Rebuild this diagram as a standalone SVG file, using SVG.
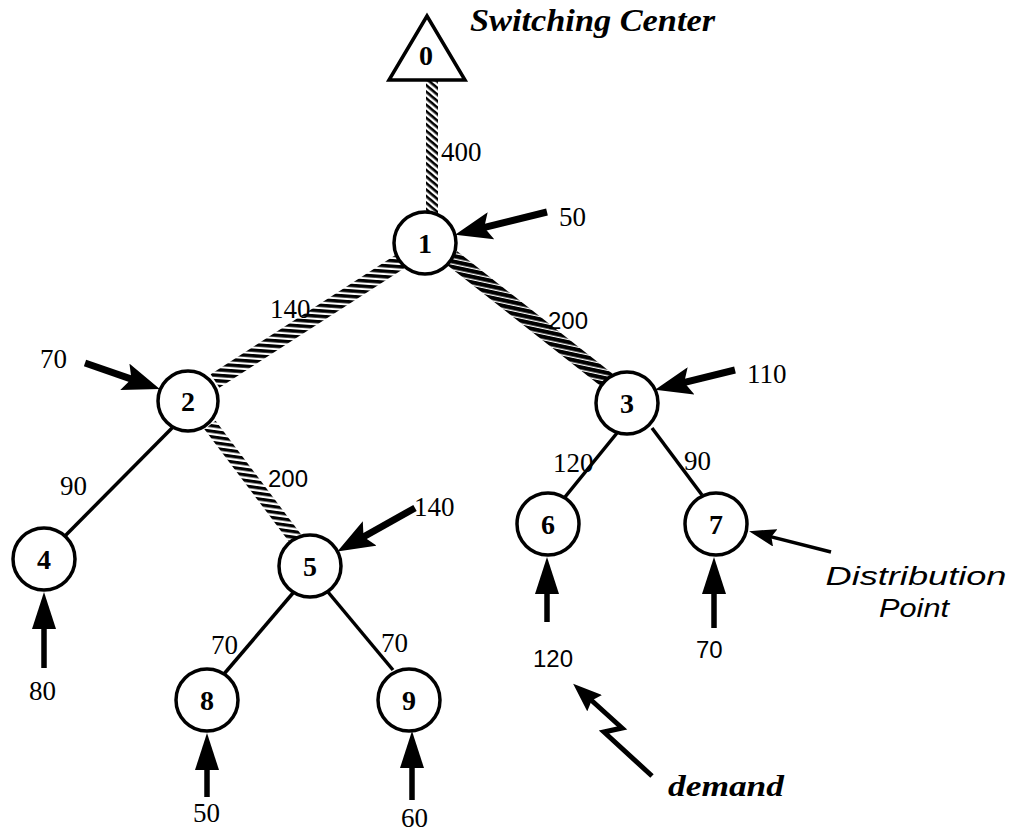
<svg xmlns="http://www.w3.org/2000/svg" width="1019" height="836" viewBox="0 0 1019 836">
<style>
.node{fill:#fff;stroke:#000;stroke-width:3.5}
.nl{font-family:"Liberation Serif",serif;font-weight:bold;font-size:28px;text-anchor:middle;fill:#000}
.num{font-family:"Liberation Serif",serif;font-size:27px;fill:#000}
.sn{font-family:"Liberation Sans",sans-serif;font-size:24px;fill:#000}
.edge{stroke:#000;stroke-width:3.5;fill:none}
.fat{stroke:#000;stroke-width:7;fill:none;marker-end:url(#fathead)}
.vert{stroke:#000;stroke-width:5.5;fill:none;marker-end:url(#verthead)}
.bi{font-family:"Liberation Serif",serif;font-weight:bold;font-style:italic;fill:#000}
</style>
<defs>
<pattern id="hV" width="5" height="5" patternUnits="userSpaceOnUse" patternTransform="rotate(40)"><rect width="5" height="2.6" fill="#000"/></pattern>
<pattern id="h12" width="5.5" height="5.5" patternUnits="userSpaceOnUse" patternTransform="rotate(4)"><rect width="5.5" height="3.4" fill="#000"/></pattern>
<pattern id="h13" width="5.5" height="5.5" patternUnits="userSpaceOnUse" patternTransform="rotate(12)"><rect width="5.5" height="4.2" fill="#000"/></pattern>
<pattern id="h25" width="5.5" height="5.5" patternUnits="userSpaceOnUse" patternTransform="rotate(8)"><rect width="5.5" height="3.2" fill="#000"/></pattern>
<marker id="fathead" markerWidth="38" markerHeight="28" refX="17" refY="14" orient="auto" markerUnits="userSpaceOnUse"><path d="M0,0 L37,14 L0,28 L7,14 z" fill="#000"/></marker>
<marker id="verthead" markerWidth="38" markerHeight="24" refX="18" refY="12" orient="auto" markerUnits="userSpaceOnUse"><path d="M0,0 L37,12 L0,24 z" fill="#000"/></marker>
<marker id="thinhead" markerWidth="28" markerHeight="18" refX="12" refY="9" orient="auto" markerUnits="userSpaceOnUse"><path d="M0,0 L27,9 L0,18 L4,9 z" fill="#000"/></marker>
<marker id="bolthead" markerWidth="30" markerHeight="22" refX="13" refY="11" orient="auto" markerUnits="userSpaceOnUse"><path d="M0,0 L29,11 L0,22 L4,11 z" fill="#000"/></marker>
</defs>
<rect width="1019" height="836" fill="#fff"/>

<g id="connectors">
  <line x1="432" y1="80" x2="432" y2="214" stroke="url(#hV)" stroke-width="12"/>
  <line x1="404" y1="259" x2="215" y2="381" stroke="url(#h12)" stroke-width="16"/>
  <line x1="452" y1="258" x2="608" y2="381" stroke="url(#h13)" stroke-width="17"/>
  <line x1="210" y1="425" x2="298" y2="542" stroke="url(#h25)" stroke-width="14"/>
  <line class="edge" x1="175" y1="425" x2="64" y2="537"/>
  <line class="edge" x1="617" y1="433" x2="565" y2="497"/>
  <line class="edge" x1="652" y1="428" x2="702" y2="495"/>
  <line class="edge" x1="293" y1="593" x2="224" y2="674"/>
  <line class="edge" x1="328" y1="592" x2="393" y2="670"/>
  <line class="fat" x1="547" y1="212" x2="474.5" y2="229.9"/>
  <line class="fat" x1="85" y1="363" x2="140.9" y2="382.4"/>
  <line class="fat" x1="735" y1="370" x2="674.5" y2="384.9"/>
  <line class="fat" x1="415" y1="508" x2="354.8" y2="541.7"/>
  <line class="vert" x1="44" y1="668" x2="44" y2="611"/>
  <line class="vert" x1="547" y1="622" x2="547" y2="576"/>
  <line class="vert" x1="714" y1="628" x2="714" y2="576"/>
  <line class="vert" x1="207" y1="797" x2="207" y2="752"/>
  <line class="vert" x1="412" y1="800" x2="412" y2="750"/>
  <line x1="831" y1="552" x2="763.6" y2="534.9" stroke="#000" stroke-width="3.5" marker-end="url(#thinhead)"/>
  <path d="M652,776 L604,732 L622,728 L585,694.5" stroke="#000" stroke-width="5" fill="none" stroke-linejoin="miter" marker-end="url(#bolthead)"/>
</g>

<g id="node0">
  <polygon points="427,16 389,80 465,80" fill="#fff" stroke="#000" stroke-width="3.5" stroke-linejoin="miter"/>
  <text class="nl" x="426" y="65">0</text>
</g>
<g id="node1"><circle class="node" cx="425" cy="243" r="31"/><text class="nl" x="425" y="253">1</text></g>
<g id="node2"><circle class="node" cx="188" cy="401" r="30"/><text class="nl" x="188" y="411">2</text></g>
<g id="node3"><circle class="node" cx="627" cy="403" r="31"/><text class="nl" x="627" y="413">3</text></g>
<g id="node4"><circle class="node" cx="44" cy="559" r="31"/><text class="nl" x="44" y="569">4</text></g>
<g id="node5"><circle class="node" cx="310" cy="566" r="31"/><text class="nl" x="310" y="576">5</text></g>
<g id="node6"><circle class="node" cx="548" cy="524" r="31"/><text class="nl" x="548" y="534">6</text></g>
<g id="node7"><circle class="node" cx="716" cy="524" r="31"/><text class="nl" x="716" y="534">7</text></g>
<g id="node8"><circle class="node" cx="207" cy="700" r="31"/><text class="nl" x="207" y="710">8</text></g>
<g id="node9"><circle class="node" cx="409" cy="700" r="31"/><text class="nl" x="409" y="710">9</text></g>

<g id="labels">
  <text class="bi" x="470" y="31" font-size="32" textLength="245" lengthAdjust="spacingAndGlyphs">Switching Center</text>
  <text class="bi" x="668" y="796" font-size="30" textLength="116" lengthAdjust="spacingAndGlyphs">demand</text>
  <text x="916" y="585" font-family="'Liberation Sans',sans-serif" font-style="italic" font-size="25" text-anchor="middle" textLength="181" lengthAdjust="spacingAndGlyphs">Distribution</text>
  <text x="914" y="617" font-family="'Liberation Sans',sans-serif" font-style="italic" font-size="25" text-anchor="middle" textLength="70" lengthAdjust="spacingAndGlyphs">Point</text>
  <text class="num" x="441" y="161">400</text>
  <text class="num" x="559" y="226">50</text>
  <text class="num" x="270" y="318">140</text>
  <text class="sn" x="548" y="329">200</text>
  <text class="num" x="40" y="368">70</text>
  <text class="num" x="747" y="383">110</text>
  <text class="sn" x="268" y="487">200</text>
  <text class="num" x="553" y="472">120</text>
  <text class="num" x="684" y="470">90</text>
  <text class="num" x="60" y="495">90</text>
  <text class="num" x="414" y="516">140</text>
  <text class="num" x="211" y="654">70</text>
  <text class="num" x="381" y="652">70</text>
  <text class="num" x="29" y="700">80</text>
  <text class="sn" x="533" y="667">120</text>
  <text class="sn" x="696" y="658">70</text>
  <text class="num" x="193" y="822">50</text>
  <text class="num" x="401" y="827">60</text>
</g>
</svg>
